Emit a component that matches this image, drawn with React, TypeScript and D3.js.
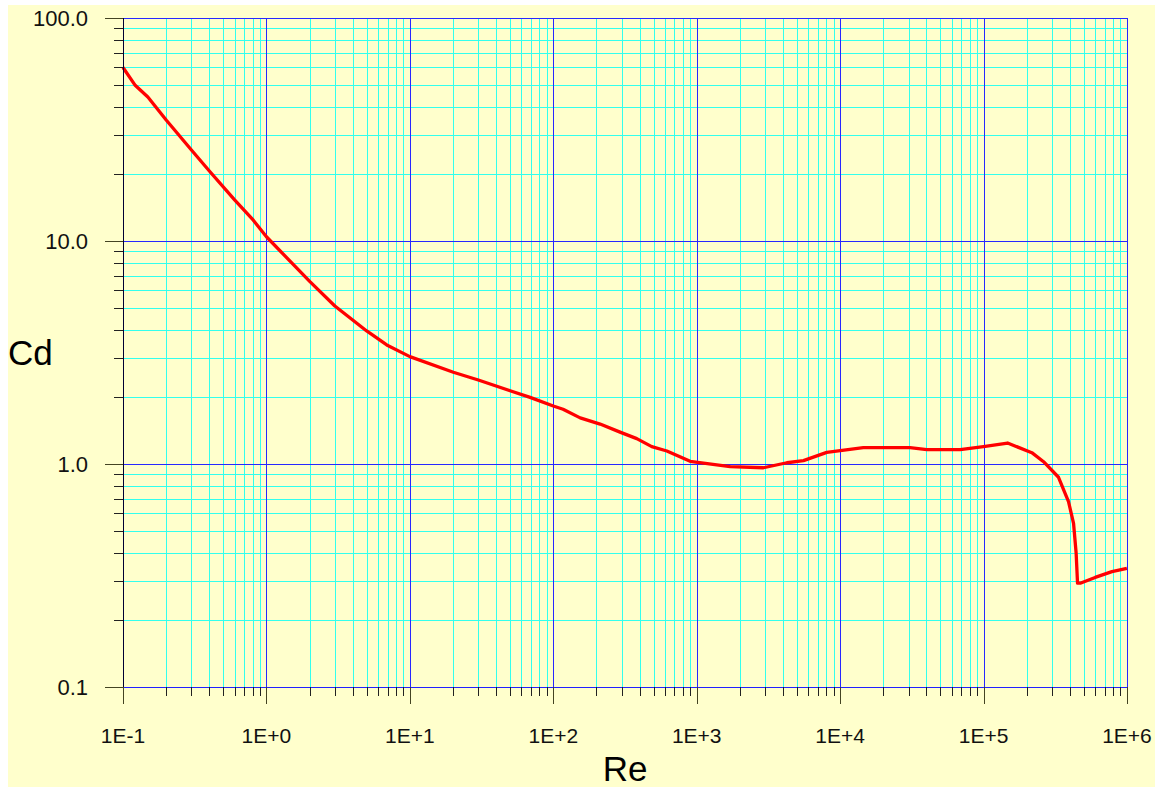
import React from "react";
import * as d3 from "d3";

// Drag coefficient of a sphere against Reynolds number
const reValues = [
  0.1, 0.121, 0.149, 0.2, 0.3, 0.4, 0.6, 0.81, 1.0, 2.01, 3.0, 5.0, 6.9, 10,
  20.1, 30, 50, 68.9, 100, 117, 154, 212, 292, 382, 486, 619, 900, 1710, 2920,
  4250, 5550, 8070, 14500, 30700, 40200, 68700, 99800, 147000, 217000, 262000,
  333000, 391000, 424000, 442000, 452000, 472000, 600000, 785000, 998000,
];
const cdValues = [
  60, 50.1, 44.2, 34.9, 25.6, 20.6, 15.3, 12.4, 10.45, 6.57, 5.11, 3.95, 3.42,
  3.03, 2.58, 2.38, 2.13, 1.99, 1.82, 1.76, 1.61, 1.51, 1.39, 1.3, 1.196, 1.144,
  1.028, 0.973, 0.962, 1.013, 1.035, 1.128, 1.183, 1.183, 1.159, 1.159, 1.196,
  1.242, 1.124, 1.024, 0.872, 0.678, 0.542, 0.398, 0.292, 0.292, 0.31, 0.329,
  0.34,
];

const xDecades = [0.1, 1, 10, 100, 1000, 10000, 100000, 1000000];
const xTickLabels = ["1E-1", "1E+0", "1E+1", "1E+2", "1E+3", "1E+4", "1E+5", "1E+6"];
const yDecades = [0.1, 1, 10, 100];
const yTickLabels = ["0.1", "1.0", "10.0", "100.0"];
const minorSteps = [2, 3, 4, 5, 6, 7, 8, 9];

const W = 1163;
const H = 787;
const L = 123;
const R = 1127;
const T = 18;
const B = 687;
const FONT = "Arial, 'Liberation Sans', sans-serif";

export default function App() {
  const x = d3.scaleLog().domain([0.1, 1e6]).range([L, R]);
  const y = d3.scaleLog().domain([0.1, 100]).range([B, T]);
  const px = (v: number) => Math.round(x(v)) + 0.5;
  const py = (v: number) => Math.round(y(v)) + 0.5;

  const xMinor: number[] = [];
  xDecades.slice(0, -1).forEach((d) => minorSteps.forEach((m) => xMinor.push(d * m)));
  const yMinor: number[] = [];
  yDecades.slice(0, -1).forEach((d) => minorSteps.forEach((m) => yMinor.push(d * m)));

  const line = d3
    .line<number>()
    .x((_, i) => x(reValues[i]))
    .y((d) => y(d))
    .curve(d3.curveLinear);

  return (
    <div style={{ position: "absolute", left: 0, top: 0 }}>
      <svg width={W} height={H} style={{ display: "block" }}>
        <rect x={0} y={0} width={W} height={H} fill="#ffffff" />
        <rect x={8} y={5} width={W - 16} height={H - 5} fill="#ffffcc" />

        <g shapeRendering="crispEdges">
          {/* minor grid */}
          {xMinor.map((v, i) => (
            <line key={"xm" + i} x1={px(v)} x2={px(v)} y1={T} y2={B} stroke="#33ffee" strokeWidth={1} />
          ))}
          {yMinor.map((v, i) => (
            <line key={"ym" + i} x1={L} x2={R} y1={py(v)} y2={py(v)} stroke="#33ffee" strokeWidth={1} />
          ))}

          {/* decade grid */}
          {xDecades.map((v, i) => (
            <line key={"xM" + i} x1={px(v)} x2={px(v)} y1={T} y2={B} stroke="#2828ff" strokeWidth={1} />
          ))}
          {yDecades.map((v, i) => (
            <line key={"yM" + i} x1={L} x2={R} y1={py(v)} y2={py(v)} stroke="#2828ff" strokeWidth={1} />
          ))}
        </g>

        {/* curve */}
        <path d={line(cdValues) || ""} fill="none" stroke="#ff0000" strokeWidth={3.3} strokeLinejoin="round" />

        <g shapeRendering="crispEdges">
          {/* axes */}
          <line x1={L + 0.5} x2={L + 0.5} y1={T} y2={B} stroke="#000033" strokeWidth={1} />
          <line x1={L} x2={R} y1={B + 0.5} y2={B + 0.5} stroke="#2020ff" strokeWidth={1} />

          {/* y ticks */}
          {yDecades.map((v, i) => (
            <line key={"yt" + i} x1={105} x2={L} y1={py(v)} y2={py(v)} stroke="#444422" strokeWidth={1} />
          ))}
          {yMinor.map((v, i) => (
            <line key={"ytm" + i} x1={114} x2={L} y1={py(v)} y2={py(v)} stroke="#222222" strokeWidth={1} />
          ))}
          {/* x ticks */}
          {xDecades.map((v, i) => (
            <line key={"xt" + i} x1={px(v)} x2={px(v)} y1={B} y2={704} stroke="#444422" strokeWidth={1} />
          ))}
          {xMinor.map((v, i) => (
            <line key={"xtm" + i} x1={px(v)} x2={px(v)} y1={B} y2={696} stroke="#222222" strokeWidth={1} />
          ))}
        </g>

        {/* tick labels */}
        {yDecades.map((v, i) => (
          <text
            key={"yl" + i}
            x={88}
            y={y(v) + 8}
            textAnchor="end"
            fontFamily={FONT}
            fontSize={22}
            fill="#111111"
          >
            {yTickLabels[i]}
          </text>
        ))}
        {xDecades.map((v, i) => (
          <text
            key={"xl" + i}
            x={x(v)}
            y={743}
            textAnchor="middle"
            fontFamily={FONT}
            fontSize={21}
            fill="#111111"
          >
            {xTickLabels[i]}
          </text>
        ))}

        {/* axis titles */}
        <text x={8} y={365} fontFamily={FONT} fontSize={35} fill="#000000">
          Cd
        </text>
        <text x={(L + R) / 2} y={781} textAnchor="middle" fontFamily={FONT} fontSize={35} fill="#000000">
          Re
        </text>
      </svg>
    </div>
  );
}
